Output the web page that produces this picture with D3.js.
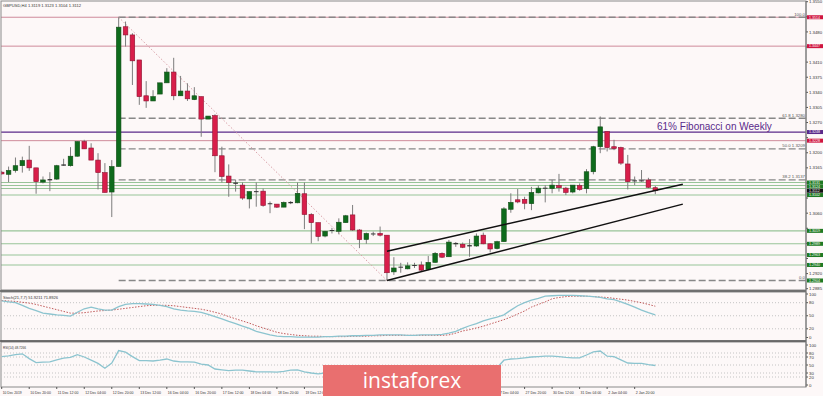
<!DOCTYPE html>
<html>
<head>
<meta charset="utf-8">
<title>GBPUSD H4</title>
<script src="https://cdn.jsdelivr.net/npm/d3@7"></script>
<style>
  body { margin: 0; background: #fdf8f8; overflow: hidden; }
  text { font-family: "Liberation Sans", Arial, sans-serif; }
</style>
</head>
<body>
<svg id="chart" width="823" height="396"></svg>
<script>
// ---- data ----
const opens = [1.3155,1.3150,1.3159,1.3170,1.3183,1.3165,1.3132,1.3136,1.3139,1.3170,
  1.3170,1.3192,1.3226,1.3211,1.3183,1.3154,1.3109,1.3168,1.3492,1.3473,
  1.3415,1.3332,1.3320,1.3336,1.3362,1.3387,1.3332,1.3343,1.3323,1.3330,
  1.3278,1.3286,1.3193,1.3146,1.3131,1.3125,1.3093,1.3109,1.3111,1.3081,
  1.3081,1.3074,1.3086,1.3084,1.3105,1.3057,1.3038,1.3007,1.3019,1.3018,
  1.3038,1.3056,1.3021,1.2999,1.3011,1.3013,1.3009,1.2924,1.2934,1.2931,
  1.2938,1.2940,1.2930,1.2946,1.2967,1.2959,1.2991,1.2988,1.2983,1.2984,
  1.3009,1.2989,1.2978,1.2994,1.3069,1.3091,1.3092,1.3082,1.3107,1.3117,
  1.3117,1.3124,1.3118,1.3109,1.3124,1.3117,1.3156,1.3214,1.3249,1.3214,
  1.3212,1.3174,1.3136,1.3136,1.3137,1.3119];
const highs = [1.3158,1.3168,1.3189,1.3191,1.3216,1.3165,1.3145,1.3155,1.3172,1.3186,
  1.3213,1.3226,1.3230,1.3222,1.3199,1.3176,1.3183,1.3514,1.3504,1.3477,
  1.3415,1.3366,1.3345,1.3362,1.3396,1.3420,1.3378,1.3361,1.3352,1.3330,
  1.3285,1.3289,1.3214,1.3173,1.3137,1.3131,1.3110,1.3131,1.3117,1.3087,
  1.3081,1.3087,1.3088,1.3131,1.3131,1.3060,1.3038,1.3019,1.3026,1.3048,
  1.3056,1.3079,1.3023,1.3015,1.3017,1.3029,1.3009,1.2958,1.2945,1.2946,
  1.2945,1.2948,1.2961,1.2970,1.2969,1.2998,1.2993,1.2992,1.3000,1.3013,
  1.3015,1.2990,1.2996,1.3074,1.3106,1.3116,1.3098,1.3121,1.3124,1.3125,
  1.3137,1.3151,1.3121,1.3125,1.3129,1.3162,1.3216,1.3284,1.3250,1.3230,
  1.3214,1.3195,1.3145,1.3160,1.3142,1.3123];
const lows = [1.3149,1.3132,1.3154,1.3154,1.3158,1.3105,1.3129,1.3111,1.3137,1.3170,
  1.3168,1.3191,1.3209,1.3183,1.3115,1.3108,1.3051,1.3168,1.3446,1.3357,
  1.3311,1.3304,1.3320,1.3336,1.3362,1.3322,1.3332,1.3320,1.3322,1.3237,
  1.3278,1.3155,1.3131,1.3098,1.3110,1.3091,1.3071,1.3075,1.3075,1.3060,
  1.3072,1.3074,1.3081,1.3083,1.3023,1.2990,1.2995,1.3004,1.3013,1.3011,
  1.3038,1.3019,1.2979,1.2989,1.3007,1.3006,1.2904,1.2917,1.2922,1.2930,
  1.2933,1.2924,1.2928,1.2945,1.2956,1.2959,1.2982,1.2979,1.2959,1.2982,
  1.2988,1.2969,1.2976,1.2994,1.3061,1.3083,1.3069,1.3067,1.3106,1.3085,
  1.3106,1.3110,1.3102,1.3106,1.3112,1.3106,1.3150,1.3199,1.3203,1.3206,
  1.3172,1.3115,1.3125,1.3133,1.3118,1.3104];
const closes = [1.3151,1.3159,1.3170,1.3182,1.3165,1.3133,1.3137,1.3139,1.3170,1.3173,
  1.3192,1.3226,1.3209,1.3183,1.3154,1.3108,1.3168,1.3491,1.3473,1.3413,
  1.3330,1.3320,1.3330,1.3362,1.3387,1.3332,1.3343,1.3325,1.3332,1.3278,
  1.3285,1.3193,1.3145,1.3131,1.3128,1.3095,1.3110,1.3111,1.3078,1.3083,
  1.3074,1.3085,1.3083,1.3106,1.3057,1.3038,1.3006,1.3018,1.3021,1.3039,
  1.3054,1.3021,1.2999,1.3013,1.3013,1.3009,1.2922,1.2933,1.2936,1.2938,
  1.2940,1.2928,1.2946,1.2967,1.2958,1.2993,1.2988,1.2981,1.2986,1.3007,
  1.2989,1.2977,1.2994,1.3070,1.3085,1.3086,1.3083,1.3108,1.3118,1.3119,
  1.3125,1.3119,1.3108,1.3125,1.3115,1.3156,1.3214,1.3260,1.3212,1.3210,
  1.3176,1.3133,1.3135,1.3135,1.3120,1.3112];

const stochMain = [84,82,80,74,67,62,56,54,52,51, 49,58,66,70,66,63,63,71,76,78,
  78,77,76,74,71,66,63,61,60,58, 53,48,43,37,32,26,21,14,10,6,
  3,2,2,1,1,1,1,2,2,3, 3,4,4,5,5,6,6,6,6,5,
  5,6,6,6,7,10,14,21,27,32, 38,43,47,52,63,73,80,86,90,95,
  96,97,97,97,96,95,94,92,89,87, 82,76,70,63,57,51.9211];
const stochSignal = [85,84,83,81,79,76,72,68,64,60, 56,56,57,59,61,62,63,65,67,69,
  71,73,74,74,74,73,71,69,67,65, 62,58,54,48,43,38,33,27,22,17,
  12,9,7,5,4,3,3,2,2,2, 2,3,3,3,4,4,5,5,5,5,
  5,5,5,5,5,6,10,15,18,22, 26,31,36,41,47,54,61,70,76,82,
  89,92,94,95,95,95,94,93,92,90, 88,86,83,80,76,71.8926];
const rsiValues = [71,73,76,78,66,56,57,58,63,67, 69,76,70,62,54,42,55,86,82,71,
  61,61,60,62,65,60,58,58,57,52, 50,40,38,36,37,37,35,33,33,33,
  32,34,37,38,33,30,28,30,31,34, 37,33,30,32,32,31,22,26,27,28,
  28,27,31,36,34,42,41,40,41,46, 42,39,43,62,65,66,68,70,71,72,
  72,71,69,68,68,75,83,85,72,71, 63,55,54,54,51,48.7266];

const dateTicks = [0,4,8,12,16,20,24,28,32,36,40,44,48,52,56,60,64,68,72,76,80,84,88,92];
const dateLabels = ["10 Dec 2019","10 Dec 20:00","11 Dec 12:00","12 Dec 04:00","12 Dec 20:00",
  "13 Dec 12:00","16 Dec 04:00","16 Dec 20:00","17 Dec 12:00","18 Dec 04:00","18 Dec 20:00",
  "19 Dec 12:00","20 Dec 04:00","20 Dec 20:00","23 Dec 12:00","24 Dec 04:00","24 Dec 20:00",
  "26 Dec 12:00","27 Dec 04:00","27 Dec 20:00","30 Dec 12:00","31 Dec 04:00","2 Jan 04:00","2 Jan 20:00"];
const priceTicks = [1.3550,1.3515,1.3480,1.3445,1.3410,1.3375,1.3340,1.3305,1.3270,1.3235,
  1.3200,1.3165,1.3130,1.3095,1.3060,1.3025,1.2990,1.2955,1.2920,1.2885];

const pinkLevels = [1.3514, 1.3447, 1.3228];
const purpleLevels = [1.3248];
const greenLevels = [1.3131, 1.3124, 1.3117, 1.3102, 1.3019, 1.2989, 1.2963, 1.2940];
const fibLevels = [1.3514, 1.3280, 1.3209, 1.3137, 1.2904];
const fibNames = ["100.0", "61.8 1.3280", "50.0 1.3209", "38.2 1.3137", "0.0"];
const fibStart = 17;
const fibDiagonal = [[17, 1.3514], [56, 1.2904]];
const channelUpper = [[56, 1.2972], [99, 1.3127]];
const channelLower = [[56, 1.2904], [99, 1.3081]];
const boxPrices = [1.3514, 1.3447, 1.3248, 1.3228, 1.3131, 1.3124, 1.3112, 1.3102, 1.3019, 1.2989, 1.2963, 1.2940, 1.2904];
const boxKinds  = ["red","red","purple","red","green","green","black","green","green","green","green","green","green"];
const stochLevels = [100, 80, 50, 20, 0];
const rsiLevels = [100, 80, 70, 50, 30, 20, 0];

// ---- layout ----
const svg = d3.select("#chart");
const axisX = 806;
const main = {top: 1, bottom: 290};
const stochBox = {top: 292, bottom: 341};
const rsiBox = {top: 342, bottom: 387};
const mark = {x: 323, y: 365, w: 178, h: 31};
const kindColor = {red: "#cf1640", purple: "#5a2a8a", green: "#1f7a24", black: "#111111"};

const x = d3.scaleLinear().domain([0, 95]).range([1.7, 655.3]);
const y = d3.scaleLinear().domain([1.2885, 1.3550]).range([288.7, 1.7]);
const yS = d3.scaleLinear().domain([0, 100]).range([337.5, 294]);
const yR = d3.scaleLinear().domain([0, 100]).range([385, 345]);

svg.append("rect").attr("width", 823).attr("height", 396).attr("fill", "#fdf8f8");

svg.append("defs").append("clipPath").attr("id", "mainClip")
  .append("rect").attr("x", 1).attr("y", main.top).attr("width", axisX - 1).attr("height", main.bottom - main.top);

const g = svg.append("g").attr("clip-path", "url(#mainClip)");

// horizontal levels
g.selectAll(".pink").data(pinkLevels).enter().append("line")
  .attr("x1", 0).attr("x2", axisX).attr("y1", d => y(d)).attr("y2", d => y(d))
  .attr("stroke", "#cf8b9b").attr("stroke-width", 1);
g.selectAll(".purple").data(purpleLevels).enter().append("line")
  .attr("x1", 0).attr("x2", axisX).attr("y1", d => y(d)).attr("y2", d => y(d))
  .attr("stroke", "#5a2a8a").attr("stroke-width", 1.2);
g.selectAll(".green").data(greenLevels).enter().append("line")
  .attr("x1", 0).attr("x2", axisX).attr("y1", d => y(d)).attr("y2", d => y(d))
  .attr("stroke", "#98c498").attr("stroke-width", 1.1);

// fibonacci
g.selectAll(".fib").data(fibLevels).enter().append("line")
  .attr("x1", x(fibStart)).attr("x2", axisX).attr("y1", d => y(d)).attr("y2", d => y(d))
  .attr("stroke", "#888").attr("stroke-width", 1.3).attr("stroke-dasharray", "7,3");
g.append("line")
  .attr("x1", x(fibDiagonal[0][0])).attr("y1", y(fibDiagonal[0][1]))
  .attr("x2", x(fibDiagonal[1][0])).attr("y2", y(fibDiagonal[1][1]))
  .attr("stroke", "#d9a0a8").attr("stroke-width", 1).attr("stroke-dasharray", "1.5,2");
g.selectAll(".fibTxt").data(fibLevels).enter().append("text")
  .attr("x", 805).attr("y", d => y(d) - 1.5).attr("text-anchor", "end")
  .attr("font-size", 4.3).attr("fill", "#555").text((d, i) => fibNames[i]);

// candles
const idx = d3.range(opens.length);
const isDoji = i => Math.abs(opens[i] - closes[i]) < 0.0003;
g.selectAll(".wick").data(idx).enter().append("line")
  .attr("x1", i => x(i)).attr("x2", i => x(i))
  .attr("y1", i => y(highs[i])).attr("y2", i => y(lows[i]))
  .attr("stroke", "#7d7d7d").attr("stroke-width", 1);
g.selectAll(".body").data(idx).enter().append("rect")
  .attr("x", i => x(i) - 2.3).attr("width", 4.6)
  .attr("y", i => y(Math.max(opens[i], closes[i])))
  .attr("height", i => Math.max(1, Math.abs(y(opens[i]) - y(closes[i]))))
  .attr("fill", i => isDoji(i) ? "#333" : (closes[i] >= opens[i] ? "#0e6b1c" : "#d81e4a"))
  .attr("stroke", i => isDoji(i) ? "none" : (closes[i] >= opens[i] ? "#154d18" : "#8e1230"))
  .attr("stroke-width", 0.6);

// channel
[channelUpper, channelLower].forEach(c => {
  g.append("line").attr("x1", x(c[0][0])).attr("y1", y(c[0][1]))
    .attr("x2", x(c[1][0])).attr("y2", y(c[1][1]))
    .attr("stroke", "#111").attr("stroke-width", 1.5);
});

g.append("text").attr("x", 657).attr("y", 130).attr("font-size", 10)
  .attr("fill", "#5a2a8a").text("61% Fibonacci on Weekly");

svg.append("text").attr("x", 3).attr("y", 7).attr("font-size", 4.2).attr("fill", "#333")
  .attr("textLength", 78).attr("lengthAdjust", "spacingAndGlyphs")
  .text("GBPUSD,H4  1.3119 1.3123 1.3104 1.3112");

// frames
svg.append("rect").attr("x", 1).attr("y", main.top).attr("width", axisX - 1).attr("height", main.bottom - main.top)
  .attr("fill", "none").attr("stroke", "#8a8a8a").attr("stroke-width", 1);

// price axis (tick labels hidden behind a price box are left out)
const freeTicks = priceTicks.filter(t => boxPrices.every(b => Math.abs(y(b) - y(t)) > 4));
svg.selectAll(".ptick").data(priceTicks).enter().append("line")
  .attr("x1", axisX).attr("x2", axisX + 2).attr("y1", d => y(d)).attr("y2", d => y(d)).attr("stroke", "#555");
svg.selectAll(".plabel").data(freeTicks).enter().append("text")
  .attr("x", 809).attr("y", d => y(d) + 1.6).attr("font-size", 4.3).attr("fill", "#333")
  .text(d => d.toFixed(4));

// price boxes, nudged down so stacked ones stay readable
const boxY = [];
boxPrices.forEach((p, i) => {
  let v = y(p);
  if (i > 0 && v < boxY[i - 1] + 4) v = boxY[i - 1] + 4;
  boxY.push(v);
});
const boxes = svg.selectAll(".box").data(boxPrices).enter().append("g");
boxes.append("rect").attr("x", 807).attr("y", (d, i) => boxY[i] - 2).attr("width", 16).attr("height", 4)
  .attr("fill", (d, i) => kindColor[boxKinds[i]]);
boxes.append("text").attr("x", 809).attr("y", (d, i) => boxY[i] + 1.3).attr("font-size", 3.6).attr("fill", "#fff")
  .text(d => d.toFixed(4));

// sub panels
function panel(box, scale, levels) {
  svg.append("rect").attr("x", 1).attr("y", box.top).attr("width", axisX - 1).attr("height", box.bottom - box.top)
    .attr("fill", "#fdf8f8").attr("stroke", "#8a8a8a");
  svg.selectAll(null).data(levels.filter(l => l > 0 && l < 100)).enter().append("line")
    .attr("x1", 1).attr("x2", axisX).attr("y1", d => scale(d)).attr("y2", d => scale(d))
    .attr("stroke", "#c4c4c4").attr("stroke-dasharray", "1,2");
  svg.selectAll(null).data(levels).enter().append("text")
    .attr("x", 809).attr("y", d => scale(d) + 1.6).attr("font-size", 4.3).attr("fill", "#333").text(d => d);
  svg.selectAll(null).data(levels).enter().append("line")
    .attr("x1", axisX).attr("x2", axisX + 2).attr("y1", d => scale(d)).attr("y2", d => scale(d)).attr("stroke", "#555");
}
panel(stochBox, yS, stochLevels);
panel(rsiBox, yR, rsiLevels);

const lineS = d3.line().x((d, i) => x(i)).y(d => yS(d));
const lineR = d3.line().x((d, i) => x(i)).y(d => yR(d));
svg.append("path").attr("d", lineS(stochSignal)).attr("fill", "none")
  .attr("stroke", "#c05a5a").attr("stroke-width", 1).attr("stroke-dasharray", "1.5,1.5");
svg.append("path").attr("d", lineS(stochMain)).attr("fill", "none")
  .attr("stroke", "#8cc4cf").attr("stroke-width", 1.3);
svg.append("path").attr("d", lineR(rsiValues)).attr("fill", "none")
  .attr("stroke", "#8cc4cf").attr("stroke-width", 1.3);

svg.append("text").attr("x", 3).attr("y", 298.5).attr("font-size", 4.2).attr("fill", "#333")
  .attr("textLength", 55).attr("lengthAdjust", "spacingAndGlyphs")
  .text("Stoch(21,7,7) 51.9211 71.8926");
svg.append("text").attr("x", 3).attr("y", 348.5).attr("font-size", 4.2).attr("fill", "#333")
  .attr("textLength", 23).attr("lengthAdjust", "spacingAndGlyphs")
  .text("RSI(14) 48.7266");

// separators
[main.bottom + 1, stochBox.bottom].forEach(v => {
  svg.append("line").attr("x1", 0).attr("x2", axisX).attr("y1", v).attr("y2", v)
    .attr("stroke", "#555").attr("stroke-width", 1.5);
});
svg.append("line").attr("x1", axisX).attr("x2", axisX).attr("y1", main.top).attr("y2", rsiBox.bottom)
  .attr("stroke", "#777");

// time axis — labels that sit wholly behind the watermark are not drawn
const labelW = i => dateLabels[i].length * 1.72;
const shownDates = dateTicks.map((t, i) => i)
  .filter(i => !(x(dateTicks[i]) + 1 >= mark.x && x(dateTicks[i]) + 1 + labelW(i) <= mark.x + mark.w - 8));
svg.selectAll(".dtick").data(dateTicks).enter().append("line")
  .attr("x1", d => x(d)).attr("x2", d => x(d)).attr("y1", rsiBox.bottom).attr("y2", rsiBox.bottom + 2)
  .attr("stroke", "#555");
svg.selectAll(".dlabel").data(shownDates).enter().append("text")
  .attr("x", i => x(dateTicks[i]) + 1).attr("y", 393.5).attr("font-size", 4.2).attr("fill", "#333")
  .attr("textLength", i => labelW(i)).attr("lengthAdjust", "spacingAndGlyphs")
  .text(i => dateLabels[i]);

// watermark
svg.append("rect").attr("x", mark.x).attr("y", mark.y).attr("width", mark.w).attr("height", mark.h).attr("fill", "#e96f6f");
svg.append("text").attr("x", mark.x + mark.w / 2).attr("y", 388).attr("text-anchor", "middle")
  .attr("font-size", 21).attr("fill", "#fff").style("font-family", "'Open Sans', sans-serif")
  .text("instaforex");
</script>
</body>
</html>
